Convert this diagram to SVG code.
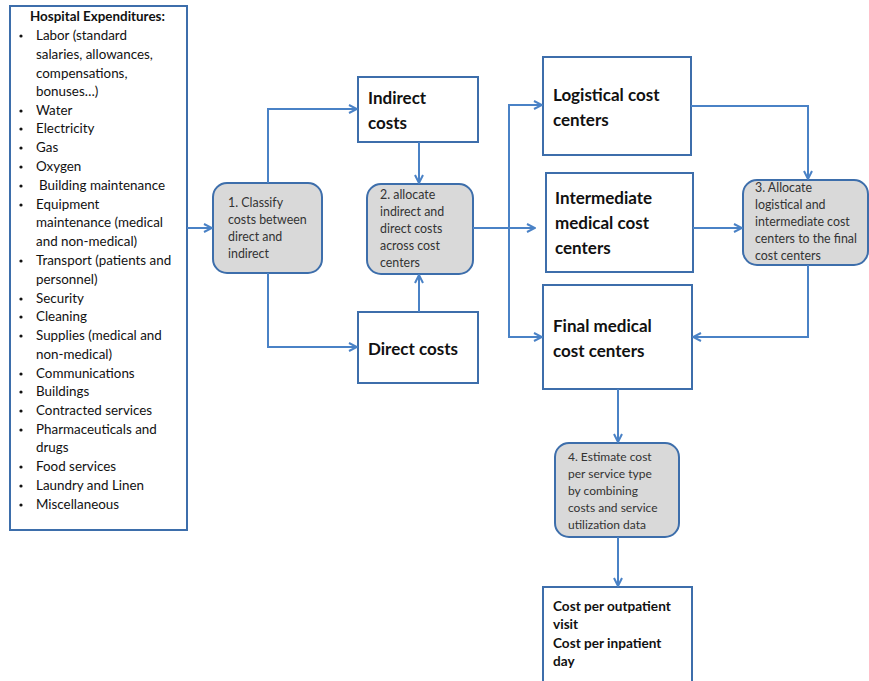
<svg xmlns="http://www.w3.org/2000/svg" width="869" height="681" viewBox="0 0 869 681">
<style>
.box{fill:#fff;stroke:#3d6eab;stroke-width:2}
.step{fill:#d9d9d9;stroke:#3d6eab;stroke-width:2}
.ln{fill:none;stroke:#4a82c6;stroke-width:2}
.t{font-family:Lato,"Liberation Sans",sans-serif;fill:#111}
.list{font-size:13.4px}
.big{font-size:17px;font-weight:bold}
.s{font-size:12.4px;fill:#333}
.s4{font-size:12px;fill:#333}
.out{font-size:13.6px;font-weight:bold}
</style>
<defs>
<marker id="a" viewBox="0 0 10 10" refX="9" refY="5" markerWidth="10" markerHeight="10" markerUnits="userSpaceOnUse" orient="auto">
<path d="M1,1 L9,5 L1,9" fill="none" stroke="#4a82c6" stroke-width="2"/>
</marker>
</defs>
<rect width="869" height="681" fill="#fff"/>
<g id="expenditures">
<rect class="box" x="10" y="6" width="177" height="524"/>
<text class="t list" x="30" y="21" font-weight="bold">Hospital Expenditures:</text>
<g class="t list">
<text x="36" y="40">Labor (standard</text>
<text x="36" y="59">salaries, allowances,</text>
<text x="36" y="78">compensations,</text>
<text x="36" y="96">bonuses…)</text>
<text x="36" y="115">Water</text>
<text x="36" y="133">Electricity</text>
<text x="36" y="152">Gas</text>
<text x="36" y="171">Oxygen</text>
<text x="39" y="190">Building maintenance</text>
<text x="36" y="209">Equipment</text>
<text x="36" y="227">maintenance (medical</text>
<text x="36" y="246">and non-medical)</text>
<text x="36" y="265">Transport (patients and</text>
<text x="36" y="284">personnel)</text>
<text x="36" y="303">Security</text>
<text x="36" y="321">Cleaning</text>
<text x="36" y="340">Supplies (medical and</text>
<text x="36" y="359">non-medical)</text>
<text x="36" y="378">Communications</text>
<text x="36" y="396">Buildings</text>
<text x="36" y="415">Contracted services</text>
<text x="36" y="434">Pharmaceuticals and</text>
<text x="36" y="452">drugs</text>
<text x="36" y="471">Food services</text>
<text x="36" y="490">Laundry and Linen</text>
<text x="36" y="509">Miscellaneous</text>
</g>
<g fill="#111">
<circle cx="21" cy="36" r="1.6"/><circle cx="21" cy="111" r="1.6"/><circle cx="21" cy="129" r="1.6"/><circle cx="21" cy="148" r="1.6"/><circle cx="21" cy="167" r="1.6"/><circle cx="21" cy="186" r="1.6"/><circle cx="21" cy="205" r="1.6"/><circle cx="21" cy="261" r="1.6"/><circle cx="21" cy="299" r="1.6"/><circle cx="21" cy="317" r="1.6"/><circle cx="21" cy="336" r="1.6"/><circle cx="21" cy="374" r="1.6"/><circle cx="21" cy="392" r="1.6"/><circle cx="21" cy="411" r="1.6"/><circle cx="21" cy="430" r="1.6"/><circle cx="21" cy="467" r="1.6"/><circle cx="21" cy="486" r="1.6"/><circle cx="21" cy="505" r="1.6"/>
</g>
</g>
<g id="step1">
<rect class="step" x="213" y="183" width="109" height="90" rx="14"/>
<text class="t s" x="228" y="207">1. Classify</text>
<text class="t s" x="228" y="224">costs between</text>
<text class="t s" x="228" y="241">direct and</text>
<text class="t s" x="228" y="258">indirect</text>
</g>
<g id="indirect">
<rect class="box" x="358" y="77" width="120" height="65"/>
<text class="t big" x="368" y="104">Indirect</text>
<text class="t big" x="368" y="129">costs</text>
</g>
<g id="direct">
<rect class="box" x="358" y="312" width="120" height="71"/>
<text class="t big" x="368" y="355">Direct costs</text>
</g>
<g id="step2">
<rect class="step" x="367" y="184" width="106" height="90" rx="14"/>
<text class="t s" x="380" y="199">2. allocate</text>
<text class="t s" x="380" y="216">indirect and</text>
<text class="t s" x="380" y="233">direct costs</text>
<text class="t s" x="380" y="250">across cost</text>
<text class="t s" x="380" y="267">centers</text>
</g>
<g id="logistical">
<rect class="box" x="543" y="57" width="148" height="98"/>
<text class="t big" x="553" y="101">Logistical cost</text>
<text class="t big" x="553" y="126">centers</text>
</g>
<g id="intermediate">
<rect class="box" x="546" y="173" width="147" height="99"/>
<text class="t big" x="555" y="204">Intermediate</text>
<text class="t big" x="555" y="229">medical cost</text>
<text class="t big" x="555" y="254">centers</text>
</g>
<g id="final">
<rect class="box" x="543" y="285" width="149" height="104"/>
<text class="t big" x="553" y="332">Final medical</text>
<text class="t big" x="553" y="357">cost centers</text>
</g>
<g id="step3">
<rect class="step" x="743" y="180" width="125" height="85" rx="14"/>
<text class="t s" x="755" y="192">3. Allocate</text>
<text class="t s" x="755" y="209">logistical and</text>
<text class="t s" x="755" y="226">intermediate cost</text>
<text class="t s" x="755" y="243">centers to the final</text>
<text class="t s" x="755" y="260">cost centers</text>
</g>
<g id="step4">
<rect class="step" x="555" y="443" width="124" height="94" rx="14"/>
<text class="t s4" x="568" y="461">4. Estimate cost</text>
<text class="t s4" x="568" y="478">per service type</text>
<text class="t s4" x="568" y="495">by combining</text>
<text class="t s4" x="568" y="512">costs and service</text>
<text class="t s4" x="568" y="529">utilization data</text>
</g>
<g id="output">
<rect class="box" x="543" y="587" width="149" height="100"/>
<text class="t out" x="553" y="611">Cost per outpatient</text>
<text class="t out" x="553" y="629">visit</text>
<text class="t out" x="553" y="648">Cost per inpatient</text>
<text class="t out" x="553" y="666">day</text>
</g>
<g id="connectors">
<path class="ln" d="M187,228 H212" marker-end="url(#a)"/>
<path class="ln" d="M268,183 V109 H357" marker-end="url(#a)"/>
<path class="ln" d="M268,273 V347 H357" marker-end="url(#a)"/>
<path class="ln" d="M419,142 V183" marker-end="url(#a)"/>
<path class="ln" d="M419,312 V275" marker-end="url(#a)"/>
<path class="ln" d="M473,228 H535" marker-end="url(#a)"/>
<path class="ln" d="M509,228 V105 H542" marker-end="url(#a)"/>
<path class="ln" d="M509,228 V337 H542" marker-end="url(#a)"/>
<path class="ln" d="M691,106 H808 V179" marker-end="url(#a)"/>
<path class="ln" d="M693,228 H742" marker-end="url(#a)"/>
<path class="ln" d="M808,265 V337 H693" marker-end="url(#a)"/>
<path class="ln" d="M618,389 V442" marker-end="url(#a)"/>
<path class="ln" d="M618,537 V586" marker-end="url(#a)"/>
</g>
</svg>
